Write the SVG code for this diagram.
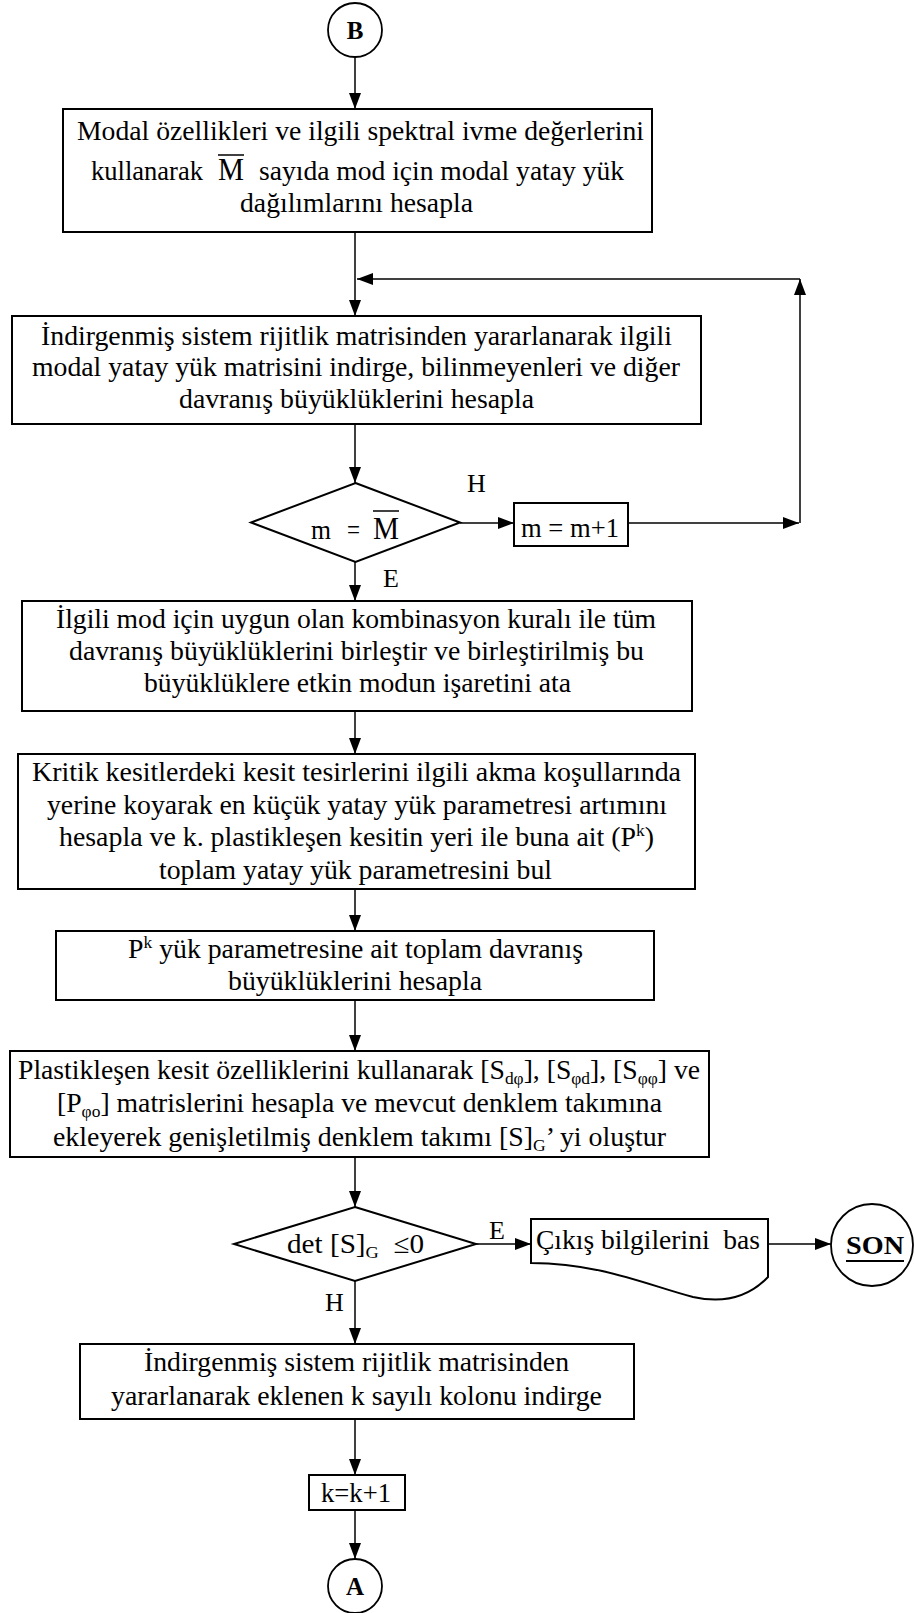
<svg xmlns="http://www.w3.org/2000/svg" width="914" height="1613" viewBox="0 0 914 1613">
<style>
text { font-family: "Liberation Serif", "Times New Roman", serif; font-size: 27px; fill: #000; }
.c { text-anchor: middle; }
.s { text-anchor: start; }
.b { font-weight: bold; font-size: 25px; }
.lbl { font-size: 26px; }
.sub { font-size: 17px; }
.sup { font-size: 17px; }
.box { fill: #fff; stroke: #000; stroke-width: 2; }
.arr { fill: none; stroke: #000; stroke-width: 1.5; marker-end: url(#ah); }
</style>
<defs>
<marker id="ah" markerUnits="userSpaceOnUse" markerWidth="16" markerHeight="12" refX="16" refY="6" orient="auto">
<path d="M0,0 L16,6 L0,12 Z" fill="#000"/>
</marker>
</defs>
<rect width="914" height="1613" fill="#fff"/>

<g id="connectors">
<path class="arr" d="M355,57 V109"/>
<path class="arr" d="M355,232 V316"/>
<path class="arr" d="M800,279 H357"/>
<path class="arr" d="M800,523 V279"/>
<path class="arr" d="M355,424 V483"/>
<path class="arr" d="M460,523 H514"/>
<path class="arr" d="M628,523 H799"/>
<path class="arr" d="M355,562 V601"/>
<path class="arr" d="M355,711 V754"/>
<path class="arr" d="M355,889 V931"/>
<path class="arr" d="M355,1000 V1051"/>
<path class="arr" d="M355,1157 V1207"/>
<path class="arr" d="M476,1244 H531"/>
<path class="arr" d="M768,1244 H831"/>
<path class="arr" d="M355,1281 V1344"/>
<path class="arr" d="M355,1419 V1475"/>
<path class="arr" d="M355,1510 V1559"/>
<text class="s lbl" x="467" y="492">H</text>
<text class="s lbl" x="383" y="587">E</text>
<text class="s lbl" x="489" y="1239">E</text>
<text class="s lbl" x="325" y="1311">H</text>
</g>

<g id="startB">
<circle cx="355" cy="30" r="27" fill="#fff" stroke="#000" stroke-width="1.8"/>
<text class="c b" x="355" y="39">B</text>
</g>

<g id="box1">
<rect class="box" x="63" y="109" width="589" height="123"/>
<text class="c" x="360.5" y="140" textLength="567" lengthAdjust="spacingAndGlyphs">Modal özellikleri ve ilgili spektral ivme değerlerini</text>
<text class="s" x="91" y="180" textLength="112" lengthAdjust="spacingAndGlyphs">kullanarak</text>
<text class="s" x="218" y="180" style="font-size:31px" textLength="26" lengthAdjust="spacingAndGlyphs">M</text>
<line x1="218" y1="155" x2="244" y2="155" stroke="#000" stroke-width="1.5"/>
<text class="s" x="259" y="180" textLength="365" lengthAdjust="spacingAndGlyphs">sayıda mod için modal yatay yük</text>
<text class="c" x="356.5" y="212" textLength="233" lengthAdjust="spacingAndGlyphs">dağılımlarını hesapla</text>
</g>

<g id="box2">
<rect class="box" x="12" y="316" width="689" height="108"/>
<text class="c" x="356.5" y="345" textLength="631" lengthAdjust="spacingAndGlyphs">İndirgenmiş sistem rijitlik matrisinden yararlanarak ilgili</text>
<text class="c" x="356" y="376" textLength="648" lengthAdjust="spacingAndGlyphs">modal yatay yük matrisini indirge, bilinmeyenleri ve diğer</text>
<text class="c" x="356.5" y="408" textLength="355" lengthAdjust="spacingAndGlyphs">davranış büyüklüklerini hesapla</text>
</g>

<g id="decision1">
<polygon points="355.5,483 460,522.5 355.5,562 251,522.5" fill="#fff" stroke="#000" stroke-width="2"/>
<text class="s" x="311" y="539" style="font-size:28px" textLength="20" lengthAdjust="spacingAndGlyphs">m</text>
<text class="s" x="347" y="539" style="font-size:28px" textLength="13" lengthAdjust="spacingAndGlyphs">=</text>
<text class="s" x="373" y="539" style="font-size:32px" textLength="26" lengthAdjust="spacingAndGlyphs">M</text>
<line x1="373" y1="511" x2="399" y2="511" stroke="#000" stroke-width="1.5"/>
</g>

<g id="increment-m">
<rect class="box" x="514" y="503" width="114" height="43" stroke-width="1.8"/>
<text class="c" x="570" y="537" textLength="98" lengthAdjust="spacingAndGlyphs">m = m+1</text>
</g>

<g id="box3">
<rect class="box" x="22" y="601" width="670" height="110"/>
<text class="c" x="356" y="628" textLength="600" lengthAdjust="spacingAndGlyphs">İlgili mod için uygun olan kombinasyon kuralı ile tüm</text>
<text class="c" x="356.5" y="660" textLength="575" lengthAdjust="spacingAndGlyphs">davranış büyüklüklerini birleştir ve birleştirilmiş bu</text>
<text class="c" x="357.5" y="692" textLength="427" lengthAdjust="spacingAndGlyphs">büyüklüklere etkin modun işaretini ata</text>
</g>

<g id="box4">
<rect class="box" x="18" y="754" width="677" height="135"/>
<text class="c" x="356.5" y="781" textLength="649" lengthAdjust="spacingAndGlyphs">Kritik kesitlerdeki kesit tesirlerini ilgili akma koşullarında</text>
<text class="c" x="357" y="814" textLength="620" lengthAdjust="spacingAndGlyphs">yerine koyarak en küçük yatay yük parametresi artımını</text>
<text class="c" x="356.5" y="846" textLength="595" lengthAdjust="spacingAndGlyphs">hesapla ve k. plastikleşen kesitin yeri ile buna ait (P<tspan class="sup" dy="-10">k</tspan><tspan dy="10">)</tspan></text>
<text class="c" x="355.5" y="879" textLength="393" lengthAdjust="spacingAndGlyphs">toplam yatay yük parametresini bul</text>
</g>

<g id="box5">
<rect class="box" x="56" y="931" width="598" height="69"/>
<text class="c" x="355.5" y="958" textLength="455" lengthAdjust="spacingAndGlyphs">P<tspan class="sup" dy="-10">k</tspan><tspan dy="10"> yük parametresine ait toplam davranış</tspan></text>
<text class="c" x="355" y="990" textLength="254" lengthAdjust="spacingAndGlyphs">büyüklüklerini hesapla</text>
</g>

<g id="box6">
<rect class="box" x="10" y="1051" width="699" height="106"/>
<text class="c" x="359" y="1079" textLength="682" lengthAdjust="spacingAndGlyphs">Plastikleşen kesit özelliklerini kullanarak [S<tspan class="sub" dy="5">dφ</tspan><tspan dy="-5">], [S</tspan><tspan class="sub" dy="5">φd</tspan><tspan dy="-5">], [S</tspan><tspan class="sub" dy="5">φφ</tspan><tspan dy="-5">] ve</tspan></text>
<text class="c" x="359.5" y="1112" textLength="605" lengthAdjust="spacingAndGlyphs">[P<tspan class="sub" dy="5">φo</tspan><tspan dy="-5">] matrislerini hesapla ve mevcut denklem takımına</tspan></text>
<text class="c" x="359.5" y="1146" textLength="613" lengthAdjust="spacingAndGlyphs">ekleyerek genişletilmiş denklem takımı [S]<tspan class="sub" dy="5">G</tspan><tspan dy="-5">’ yi oluştur</tspan></text>
</g>

<g id="decision2">
<polygon points="355,1207 476,1244 355,1281 234,1244" fill="#fff" stroke="#000" stroke-width="2"/>
<text class="c" x="355.5" y="1253" textLength="137" lengthAdjust="spacingAndGlyphs" xml:space="preserve">det [S]<tspan class="sub" dy="5">G</tspan><tspan dy="-5">  ≤0</tspan></text>
</g>

<g id="output">
<path d="M531,1219 H768 V1277 C750,1296 725,1304 693,1297 C650,1286 600,1263 531,1263 Z" fill="#fff" stroke="#000" stroke-width="2"/>
<text class="s" x="536" y="1249" textLength="224" lengthAdjust="spacingAndGlyphs" xml:space="preserve">Çıkış bilgilerini  bas</text>
</g>

<g id="endSON">
<circle cx="872" cy="1245" r="41" fill="#fff" stroke="#000" stroke-width="1.8"/>
<text class="c b" x="875" y="1254" textLength="58" lengthAdjust="spacingAndGlyphs">SON</text>
<line x1="846" y1="1261" x2="904" y2="1261" stroke="#000" stroke-width="2.2"/>
</g>

<g id="box7">
<rect class="box" x="80" y="1344" width="554" height="75"/>
<text class="c" x="356.5" y="1371" textLength="425" lengthAdjust="spacingAndGlyphs">İndirgenmiş sistem rijitlik matrisinden</text>
<text class="c" x="356.5" y="1405" textLength="491" lengthAdjust="spacingAndGlyphs">yararlanarak eklenen k sayılı kolonu indirge</text>
</g>

<g id="increment-k">
<rect class="box" x="309" y="1475" width="96" height="35" stroke-width="1.8"/>
<text class="c" x="356" y="1502" textLength="70" lengthAdjust="spacingAndGlyphs">k=k+1</text>
</g>

<g id="endA">
<circle cx="355" cy="1586" r="27" fill="#fff" stroke="#000" stroke-width="1.8"/>
<text class="c b" x="355" y="1595">A</text>
</g>
</svg>
